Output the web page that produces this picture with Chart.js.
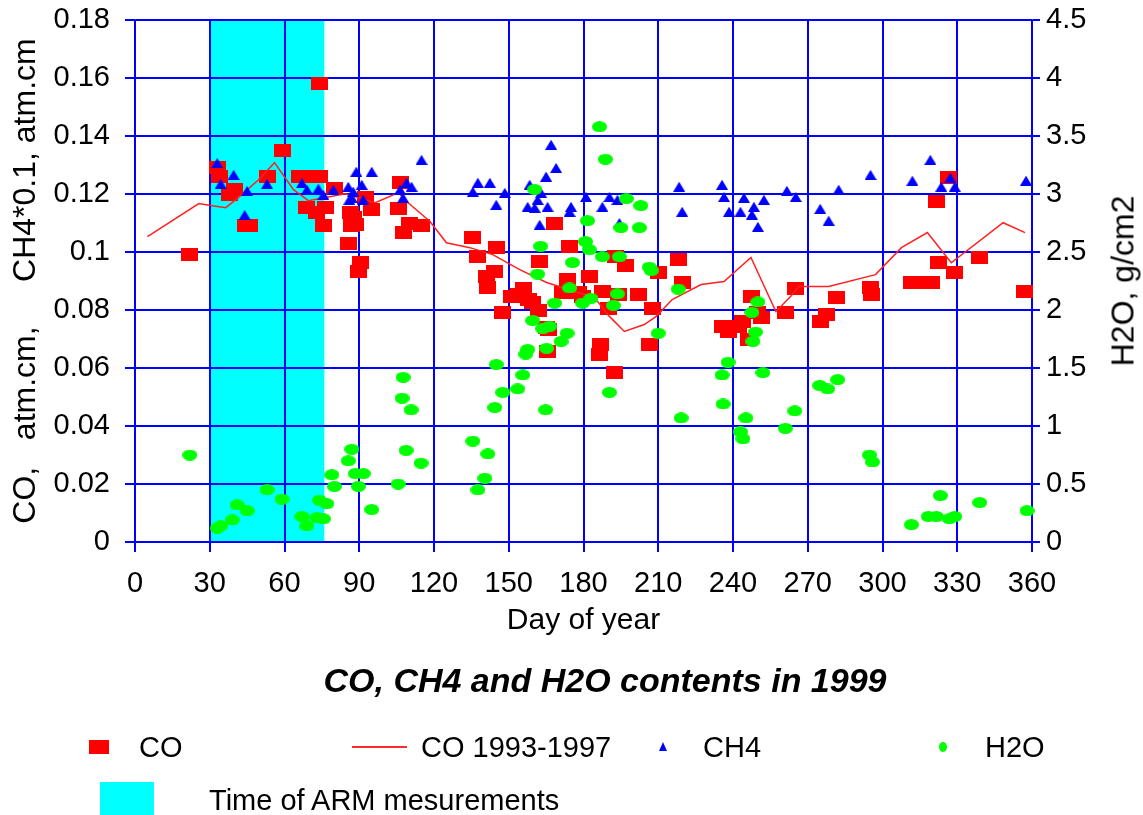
<!DOCTYPE html>
<html>
<head>
<meta charset="utf-8">
<title>CO, CH4 and H2O contents in 1999</title>
<script src="https://cdn.jsdelivr.net/npm/chart.js@4.4.1/dist/chart.umd.min.js"></script>
<style>
    body { margin: 0; background: #fff; }
    #wrap { position: relative; width: 1143px; height: 815px; overflow: hidden; font-family: 'Liberation Sans', Arial, sans-serif; color: #000; }
    #chart { position: absolute; left: 0; top: 0; }
    .txt { position: absolute; height: 40px; line-height: 40px; white-space: nowrap; font-size: 29px; }
    #title { position: absolute; left: 205px; width: 800px; top: 660px; height: 40px; line-height: 40px; text-align: center; font-size: 34px; font-weight: bold; font-style: italic; }
    #rtitle { position: absolute; left: 1123px; top: 281px; font-size: 32px; white-space: nowrap; transform: translate(-50%, -50%) rotate(-90deg); }
    .sw { position: absolute; }
</style>
</head>
<body>
<div id="wrap">
    <canvas id="chart" width="1143" height="815"></canvas>
    <div id="rtitle">H2O, g/cm2</div>
    <div id="title">CO, CH4 and H2O contents in 1999</div>

    <div class="sw" style="left:89px; top:740px; width:20px; height:14px; background:#ff0000;"></div>
    <div class="txt" style="left:139px; top:727px;">CO</div>
    <div class="sw" style="left:352px; top:746px; width:55px; height:2px; background:#ff2a2a;"></div>
    <div class="txt" style="left:421px; top:727px;">CO 1993-1997</div>
    <div class="sw" style="left:659px; top:742px; width:0; height:0; border-left:4px solid transparent; border-right:4px solid transparent; border-bottom:9px solid #0000ff;"></div>
    <div class="txt" style="left:703px; top:727px;">CH4</div>
    <div class="sw" style="left:939px; top:742px; width:8px; height:10px; border-radius:50%; background:#00ff00;"></div>
    <div class="txt" style="left:985px; top:727px;">H2O</div>
    <div class="sw" style="left:100px; top:782px; width:54px; height:33px; background:#00ffff;"></div>
    <div class="txt" style="left:209px; top:780px;">Time of ARM mesurements</div>
</div>

<script>
// Period of ARM measurements (day of year)
const armStart = 30;
const armEnd = 76;

// Axis ticks
const xTicks = [0, 30, 60, 90, 120, 150, 180, 210, 240, 270, 300, 330, 360];
const leftTicks = [0, 0.02, 0.04, 0.06, 0.08, 0.1, 0.12, 0.14, 0.16, 0.18];
const rightTicks = [0, 0.5, 1, 1.5, 2, 2.5, 3, 3.5, 4, 4.5];

// CO 1999, atm.cm
const coDays = [22, 33, 34, 38, 40, 44.5, 46, 53, 59, 74, 66, 70, 74, 69, 73, 75.6, 76.4, 80,
    86.4, 87, 85.6, 92.4, 95, 87.6, 88.4, 90.4, 89.6, 106.4, 105.6, 110, 115, 107.6,
    135.6, 145.2, 137.6, 144.4, 141, 141.6, 147.6, 162.4, 168.4, 174.4, 173.6, 182.4,
    193, 197, 210, 218, 219.6, 159.6, 171.6, 178, 187.6, 194, 202, 190, 207.6, 166,
    165.6, 187, 186.4, 192.4, 206.4, 235.6, 242.4, 247.6, 151, 154, 156, 158, 162, 165,
    179.6, 246.4, 250, 251.6, 238, 244, 261, 265, 275, 277.6, 281.6, 295, 295.6,
    311.6, 315.6, 319.6, 322.4, 321.6, 326.4, 329, 339, 357];
const coValues = [0.099, 0.129, 0.126, 0.120, 0.1215, 0.109, 0.109, 0.126, 0.135, 0.158, 0.126, 0.126, 0.126, 0.1155, 0.1135, 0.109, 0.1155, 0.122,
    0.1135, 0.109, 0.103, 0.1187, 0.1146, 0.112, 0.1094, 0.0963, 0.0933, 0.124, 0.115, 0.110, 0.109, 0.1067,
    0.105, 0.1015, 0.0984, 0.0933, 0.0915, 0.0878, 0.079, 0.0967, 0.110, 0.102, 0.0905, 0.0915,
    0.0984, 0.0953, 0.093, 0.0974, 0.0895, 0.0826, 0.086, 0.086, 0.0864, 0.0853, 0.0853, 0.0805, 0.0805, 0.0733,
    0.0657, 0.068, 0.0647, 0.0585, 0.068, 0.0743, 0.0743, 0.0847, 0.0845, 0.0853, 0.0875, 0.0836, 0.080, 0.074,
    0.0847, 0.070, 0.079, 0.0774, 0.0725, 0.076, 0.079, 0.0874, 0.076, 0.0785, 0.0843, 0.0877, 0.0853,
    0.0895, 0.0895, 0.0895, 0.0963, 0.1173, 0.1256, 0.093, 0.098, 0.0864];

// CO mean 1993-1997, atm.cm
const coRefDays = [5, 25.6, 30.4, 36.4, 41, 49.6, 56, 63.6, 69.6, 84.4, 96.4, 105.6, 109.6, 118.4,
    125, 134.4, 143.6, 154.4, 165.2, 184.4, 190.4, 196.4, 204.4, 209.2, 215.6, 227.2,
    236.4, 247.2, 257.2, 263.2, 266.4, 278.4, 297.2, 307.6, 318, 327.6, 348.4, 357.2];
const coRefValues = [0.1053, 0.1167, 0.116, 0.1153, 0.1184, 0.1249, 0.1308, 0.1215, 0.1177, 0.1201, 0.117, 0.1204, 0.117, 0.1105,
    0.1032, 0.1015, 0.0991, 0.0939, 0.0895, 0.0843, 0.0778, 0.0726, 0.075, 0.0778, 0.0836, 0.0888,
    0.0898, 0.0981, 0.0795, 0.0847, 0.0881, 0.0881, 0.0922, 0.1015, 0.1067, 0.0963, 0.1101, 0.1067];

// CH4*0.1, atm.cm
const ch4Days = [33, 39.6, 34.4, 45, 44, 53, 67, 69, 73.6, 75.6, 79.6, 85.6, 88.8, 87, 86, 95, 91,
    87.6, 91.6, 115, 109, 106.4, 111, 107.6, 137.6, 142.4, 135.6, 148.4, 145, 167, 169,
    165, 158.4, 163, 161.6, 157.6, 165.6, 160.4, 175, 174.4, 162.4, 181, 187.6, 190.4,
    193.6, 194.4, 218.4, 219.6, 235.6, 236.4, 238.4, 243, 244.4, 248.4, 252.4, 247.6,
    250, 261.6, 265.2, 282.4, 275, 278.4, 295.2, 312, 319.2, 327.2, 323.6, 329, 357.6];
const ch4Values = [0.1307, 0.1266, 0.1235, 0.121, 0.1128, 0.1235, 0.1238, 0.1215, 0.1218, 0.1197, 0.1215, 0.1225, 0.1277, 0.1187, 0.118, 0.1277, 0.1232,
    0.1208, 0.118, 0.1318, 0.1239, 0.1215, 0.1225, 0.1187, 0.1239, 0.1239, 0.1208, 0.1204, 0.1163, 0.137, 0.129,
    0.126, 0.1232, 0.1204, 0.118, 0.1156, 0.1156, 0.1153, 0.1156, 0.1139, 0.1094, 0.119, 0.1156, 0.119,
    0.118, 0.110, 0.1225, 0.1139, 0.1232, 0.119, 0.1139, 0.1139, 0.1187, 0.1156, 0.118, 0.1129,
    0.1087, 0.1211, 0.119, 0.1215, 0.1149, 0.1108, 0.1266, 0.1246, 0.1318, 0.1256, 0.1225, 0.1225, 0.1246];

// H2O, g/cm2
const h2oDays = [22, 33, 34.4, 39, 41, 45, 53, 59, 67, 69, 73, 75.6, 74, 77, 79, 80, 87, 85.6, 88.4,
    91.6, 89.6, 95, 105.6, 108.8, 114.8, 107.6, 107.2, 110.8, 135.6, 141.6, 140.4, 137.6,
    145, 147.6, 144.4, 155.6, 153.6, 157.6, 156.8, 164.8, 159.6, 163.6, 166.4, 165.2, 171,
    173.4, 168.4, 174.4, 179.6, 193.6, 192, 190.4, 210, 218, 219.2, 238, 235.6, 236, 245.2,
    243, 244, 250, 247.6, 249, 248, 252, 264.8, 261, 274.8, 278, 282, 294.8, 296, 311.6,
    318.4, 321.6, 323.2, 326.8, 329, 339, 358, 186.4, 188.8, 160.4, 197.2, 203, 181.6, 195,
    202.4, 162.8, 180.8, 182.4, 187.6, 194.4, 175.6, 206.4, 207.2, 161.6, 183];
const h2oValues = [0.75, 0.12, 0.14, 0.19, 0.32, 0.27, 0.45, 0.37, 0.22, 0.14, 0.21, 0.2, 0.36, 0.33, 0.58, 0.48, 0.80, 0.70, 0.59,
    0.59, 0.48, 0.28, 0.50, 0.79, 0.68, 1.42, 1.24, 1.14, 0.87, 0.76, 0.55, 0.45,
    1.53, 1.29, 1.16, 1.44, 1.32, 1.66, 1.62, 1.14, 1.91, 1.84, 1.86, 1.67, 1.73,
    1.80, 2.06, 2.19, 2.06, 2.14, 2.04, 1.29, 1.80, 2.18, 1.07, 1.55, 1.44, 1.19, 1.07,
    0.95, 0.89, 2.07, 1.98, 1.81, 1.73, 1.46, 1.13, 0.98, 1.35, 1.32, 1.40, 0.75, 0.69, 0.15,
    0.22, 0.22, 0.40, 0.20, 0.22, 0.34, 0.27, 3.58, 3.30, 3.04, 2.96, 2.90, 2.77, 2.71,
    2.71, 2.55, 2.59, 2.52, 2.46, 2.46, 2.41, 2.37, 2.34, 2.31, 2.10];

// Marker images
function makeMarker(w, h, draw) {
    const c = document.createElement('canvas');
    c.width = w;
    c.height = h;
    draw(c.getContext('2d'), w, h);
    return c;
}

const squareMarker = makeMarker(17, 13, (ctx, w, h) => {
    ctx.fillStyle = '#ff0000';
    ctx.fillRect(0, 0, w, h);
});
const triangleMarker = makeMarker(12, 10, (ctx, w, h) => {
    ctx.fillStyle = '#0000ff';
    ctx.beginPath();
    ctx.moveTo(w / 2, 0);
    ctx.lineTo(w, h);
    ctx.lineTo(0, h);
    ctx.closePath();
    ctx.fill();
});
const ellipseMarker = makeMarker(15, 11, (ctx, w, h) => {
    ctx.fillStyle = '#00ff00';
    ctx.beginPath();
    ctx.ellipse(w / 2, h / 2, w / 2, h / 2, 0, 0, Math.PI * 2);
    ctx.fill();
});

function toPoints(xs, ys) {
    return xs.map((x, i) => ({ x: x, y: ys[i] }));
}

function fmt(v) {
    return String(parseFloat(Number(v).toFixed(2)));
}

// Fix the width of a vertical axis and drop the extra room kept for its end labels
function fitVertical(width) {
    return s => {
        s.width = width;
        s.paddingTop = 0;
        s.paddingBottom = 0;
    };
}

// Cyan band for the ARM period, drawn under the grid
const armBand = {
    id: 'armBand',
    beforeDraw(chart) {
        const { ctx, chartArea, scales } = chart;
        const x1 = scales.x.getPixelForValue(armStart);
        const x2 = scales.x.getPixelForValue(armEnd);
        ctx.save();
        ctx.fillStyle = '#00ffff';
        ctx.fillRect(x1, chartArea.top, x2 - x1, chartArea.bottom - chartArea.top);
        ctx.restore();
    }
};

const blue = '#0000ff';
const tickFont = { family: "'Liberation Sans', Arial, sans-serif", size: 29 };

new Chart(document.getElementById('chart'), {
    type: 'scatter',
    data: {
        datasets: [
            {
                label: 'CO',
                data: toPoints(coDays, coValues),
                pointStyle: squareMarker,
                pointRadius: 7,
                yAxisID: 'y',
                order: 4,
                clip: false
            },
            {
                label: 'CO 1993-1997',
                data: toPoints(coRefDays, coRefValues),
                showLine: true,
                borderColor: '#ff2020',
                borderWidth: 1.5,
                pointRadius: 0,
                tension: 0,
                yAxisID: 'y',
                order: 3
            },
            {
                label: 'CH4',
                data: toPoints(ch4Days, ch4Values),
                pointStyle: triangleMarker,
                pointRadius: 5,
                yAxisID: 'y',
                order: 2,
                clip: false
            },
            {
                label: 'H2O',
                data: toPoints(h2oDays, h2oValues),
                pointStyle: ellipseMarker,
                pointRadius: 6,
                yAxisID: 'y2',
                order: 1,
                clip: false
            }
        ]
    },
    options: {
        responsive: false,
        animation: false,
        devicePixelRatio: 1,
        layout: { padding: { top: 20, bottom: 176, left: 0, right: 0 } },
        plugins: {
            legend: { display: false },
            tooltip: { enabled: false }
        },
        scales: {
            x: {
                type: 'linear',
                position: 'bottom',
                min: xTicks[0],
                max: xTicks[xTicks.length - 1],
                afterBuildTicks: s => { s.ticks = xTicks.map(v => ({ value: v })); },
                afterFit: s => { s.height = 97; },
                ticks: { font: tickFont, color: '#000', padding: 15, autoSkip: false, maxRotation: 0, callback: v => fmt(v) },
                grid: { color: blue, lineWidth: 2, tickLength: 10 },
                border: { color: blue, width: 1.5 },
                title: {
                    display: true,
                    text: 'Day of year',
                    color: '#000',
                    font: { family: "'Liberation Sans', Arial, sans-serif", size: 30 },
                    padding: { top: 0, bottom: 0 }
                }
            },
            y: {
                type: 'linear',
                position: 'left',
                min: leftTicks[0],
                max: leftTicks[leftTicks.length - 1],
                afterBuildTicks: s => { s.ticks = leftTicks.map(v => ({ value: v })); },
                afterFit: fitVertical(135),
                ticks: { font: tickFont, color: '#000', padding: 15, callback: v => fmt(v) },
                grid: { color: blue, lineWidth: 2, tickLength: 10 },
                border: { color: blue, width: 1.5 },
                title: {
                    display: true,
                    text: 'CO,   atm.cm,     CH4*0.1, atm.cm',
                    color: '#000',
                    font: { family: "'Liberation Sans', Arial, sans-serif", size: 32 },
                    padding: { top: 7, bottom: 0 }
                }
            },
            y2: {
                type: 'linear',
                position: 'right',
                min: rightTicks[0],
                max: rightTicks[rightTicks.length - 1],
                afterBuildTicks: s => { s.ticks = rightTicks.map(v => ({ value: v })); },
                afterFit: fitVertical(111),
                ticks: { font: tickFont, color: '#000', padding: 6, callback: v => fmt(v) },
                grid: { drawOnChartArea: false, color: blue, lineWidth: 2, tickLength: 8 },
                border: { color: blue, width: 1.5 }
            }
        }
    },
    plugins: [armBand]
});
</script>
</body>
</html>
